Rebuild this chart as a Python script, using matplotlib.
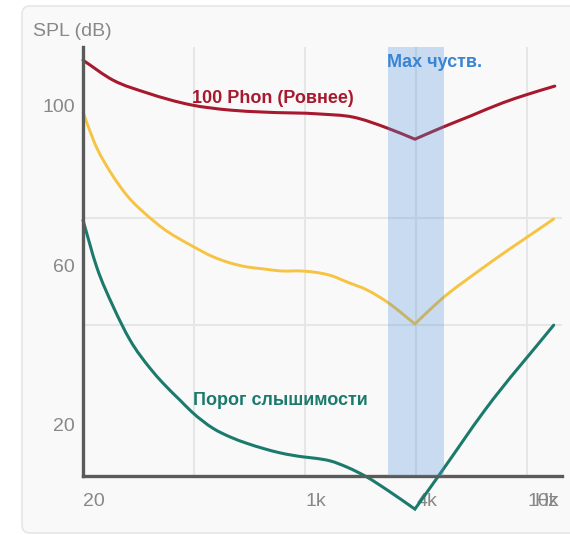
import matplotlib
matplotlib.use('Agg')
import matplotlib.pyplot as plt
from matplotlib.patches import FancyBboxPatch, PathPatch
from matplotlib.path import Path
from matplotlib.transforms import IdentityTransform

plt.rcParams['font.family'] = ['Liberation Sans', 'DejaVu Sans']

# x is the position along the (stylised) frequency axis: one unit per grid step
tick_pos = [0, 1, 2, 3, 4]
tick_labels = ['20', '', '1k', '4k', '10k']

# 100 phon contour
red_x = [0, 0.27, 0.577, 0.973, 1.32, 1.62, 2.14, 2.43, 2.74, 2.99, 3.24, 3.49, 3.78, 3.99, 4.25]
red_y = [113.0, 108.0, 104.8, 101.8, 100.5, 100.0, 99.5, 98.75, 96.0, 93.2, 96.2, 99.0, 102.3, 104.3, 106.5]

# middle contour
yel_x = [0, 0.105, 0.255, 0.405, 0.574, 0.723, 0.973, 1.174, 1.324, 1.475, 1.624, 1.775, 1.98, 2.105,
         2.225, 2.38, 2.56, 2.74, 2.99, 3.22, 3.59, 4.24]
yel_y = [100.0, 92.2, 84.6, 78.8, 74.2, 70.8, 66.6, 63.7, 62.2, 61.2, 60.7, 60.2, 60.15, 59.8,
         59.1, 57.4, 55.4, 52.4, 46.9, 52.9, 60.7, 73.2]

# threshold of hearing
grn_x = [0, 0.123, 0.273, 0.423, 0.604, 0.723, 0.874, 0.979, 1.174, 1.324, 1.475, 1.624, 1.775, 1.98,
         2.105, 2.225, 2.38, 2.56, 2.74, 2.99, 3.22, 3.62, 4.24]
grn_y = [72.9, 61.2, 51.2, 42.9, 35.8, 32.0, 27.8, 24.9, 20.7, 18.6, 17.0, 15.7, 14.6, 13.6,
         13.2, 12.6, 11.0, 8.5, 5.3, 0.5, 9.5, 25.3, 46.6]

y_ticks = [20, 60, 100]
y_grid = [20, 46.67, 73.33, 100]
band = (2.75, 3.25)

red = '#a6192e'
yellow = '#f6c343'
teal = '#1b7a6c'
blue = '#3a84d4'
gray = '#888888'


def smooth_path(xs, ys, corner):
    # smooth curve through the points (cubic pieces), with a sharp corner at the dip
    n = len(xs)
    h = [xs[i + 1] - xs[i] for i in range(n - 1)]
    d = [(ys[i + 1] - ys[i]) / h[i] for i in range(n - 1)]
    m_left = [0.0] * n   # slope used when leaving point i to the left
    m_right = [0.0] * n  # slope used when leaving point i to the right
    for i in range(n):
        if i == 0:
            m_left[i] = m_right[i] = d[0]
        elif i == n - 1:
            m_left[i] = m_right[i] = d[-1]
        elif i == corner:
            m_left[i] = d[i - 1]
            m_right[i] = d[i]
        else:
            m = (h[i - 1] * d[i] + h[i] * d[i - 1]) / (h[i - 1] + h[i])
            m_left[i] = m_right[i] = m
    verts = [(xs[0], ys[0])]
    codes = [Path.MOVETO]
    for i in range(n - 1):
        c1 = (xs[i] + h[i] / 3, ys[i] + m_right[i] * h[i] / 3)
        c2 = (xs[i + 1] - h[i] / 3, ys[i + 1] - m_left[i + 1] * h[i] / 3)
        verts += [c1, c2, (xs[i + 1], ys[i + 1])]
        codes += [Path.CURVE4] * 3
    return Path(verts, codes)


fig = plt.figure(figsize=(5.7, 5.35), dpi=100)
fig.patch.set_facecolor('white')

# card behind the chart
card = FancyBboxPatch((22, 2), 620, 527, boxstyle='round,pad=0,rounding_size=8',
                      transform=IdentityTransform(), facecolor='#f9f9f9',
                      edgecolor='#e6e6e6', linewidth=1.2, zorder=0)
fig.add_artist(card)

ax = fig.add_axes([83 / 570, 1 - 476 / 535, 479 / 570, 429 / 535])
ax.set_facecolor('none')
ax.set_xlim(0, 4.315)
ax.set_ylim(8.8, 116.3)

for xs, ys, col, lw in [(red_x, red_y, red, 2.2), (yel_x, yel_y, yellow, 2.1), (grn_x, grn_y, teal, 2.2)]:
    corner = ys.index(min(ys[8:]))
    ax.add_patch(PathPatch(smooth_path(xs, ys, corner), facecolor='none', edgecolor=col,
                           lw=lw, zorder=2, clip_on=False, capstyle='round'))

ax.axvspan(band[0], band[1], color='#4a90d9', alpha=0.28, lw=0, zorder=3)

ax.text(0.98, 102.2, '100 Phon (Ровнее)', color=red, fontsize=13, fontweight='bold',
        ha='left', va='baseline', zorder=5)
ax.text(2.74, 111.4, 'Max чуств.', color=blue, fontsize=13, fontweight='bold',
        ha='left', va='baseline', zorder=5)
ax.text(0.99, 26.6, 'Порог слышимости', color=teal, fontsize=13, fontweight='bold',
        ha='left', va='baseline', zorder=5)

ax.set_xticks(tick_pos)
ax.set_xticklabels(tick_labels)
for lab in ax.get_xticklabels():
    lab.set_ha('left')
ax.set_yticks(y_ticks)
ax.set_yticklabels([str(v) for v in y_ticks])
for lab in ax.get_yticklabels():
    lab.set_va('baseline')
ax.set_yticks(y_grid, minor=True)
ax.tick_params(axis='both', which='both', length=0, labelsize=14, colors=gray)
ax.tick_params(axis='x', pad=12)
ax.tick_params(axis='y', pad=6)

ax.set_axisbelow(True)
ax.grid(True, which='major', axis='x', color='#e6e6e6', lw=1.5)
ax.grid(True, which='minor', axis='y', color='#e6e6e6', lw=1.5)

for side in ['top', 'right']:
    ax.spines[side].set_visible(False)
for side in ['left', 'bottom']:
    ax.spines[side].set_color('#5a5a5a')
    ax.spines[side].set_linewidth(2.4)

ax.annotate('Hz', xy=(0.9916, 0), xycoords='axes fraction', xytext=(0, -12),
            textcoords='offset points', ha='right', va='top', fontsize=14, color=gray)

fig.text(33 / 570, 1 - 31 / 535, 'SPL (dB)', fontsize=14, color=gray, ha='left', va='center')

fig.savefig('out.png', dpi=100)
